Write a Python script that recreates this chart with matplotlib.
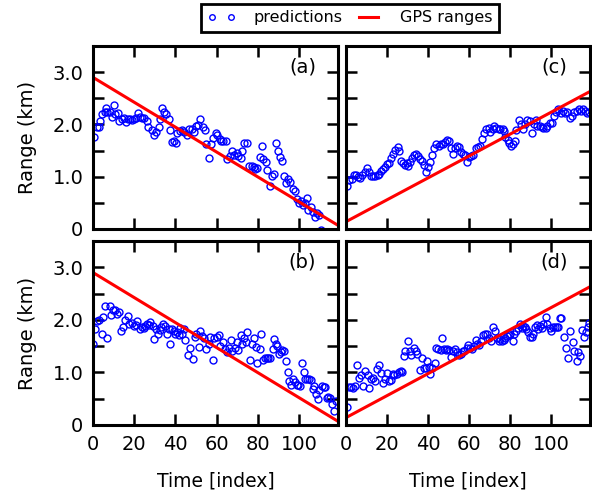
import numpy as np
import matplotlib
matplotlib.use("Agg")
import matplotlib.pyplot as plt

# predictions (time index, range in km)
a_x = [0.5, 1.8, 2.9, 3.4, 4.5, 5.9, 6.2, 7, 8.3, 9,
       10, 10.7, 12, 12.8, 14, 15, 16, 17, 18, 19,
       19.7, 20.8, 22, 23, 24, 25, 26, 26.7, 28.6, 29.8,
       30.7, 31.9, 32.7, 33.5, 34.6, 35.6, 36.7, 37.6, 38.4, 39.5,
       40.5, 41, 42.4, 43.2, 44.4, 45.7, 46.5, 48, 49, 49.8,
       51, 52, 53.3, 54.3, 55, 56.3, 57.4, 58.4, 59.5, 60.3,
       61.5, 62.3, 63.3, 64.4, 65.2, 66.5, 67.6, 68.5, 69.8, 70.6,
       71.7, 72.5, 73.3, 74.6, 75.8, 77, 78, 78.7, 79.8, 81,
       82, 82.8, 84, 84.7, 86, 86.8, 88, 89, 89.9, 90.9,
       92, 92.8, 93.7, 94.8, 95.8, 96.9, 98, 99, 100, 101,
       102, 103, 104, 104.6, 106, 106.7, 107.8, 108.8, 110, 110.7]
a_y = [1.76, 1.96, 1.96, 2.06, 2.19, 2.24, 2.32, 2.24, 2.24, 2.14,
       2.37, 2.19, 2.22, 2.06, 2.10, 2.13, 2.04, 2.10, 2.11, 2.08,
       2.10, 2.13, 2.21, 2.15, 2.12, 2.12, 2.06, 1.96, 1.89, 1.79,
       1.86, 1.96, 2.11, 2.31, 2.24, 2.19, 2.11, 1.89, 1.66, 1.68,
       1.64, 1.84, 1.88, 1.90, 1.85, 1.79, 1.92, 1.92, 1.85, 1.97,
       1.98, 2.11, 1.96, 1.89, 1.63, 1.35, 1.62, 1.74, 1.83, 1.79,
       1.72, 1.69, 1.69, 1.68, 1.34, 1.39, 1.49, 1.42, 1.46, 1.39,
       1.36, 1.49, 1.65, 1.65, 1.21, 1.21, 1.19, 1.15, 1.17, 1.38,
       1.58, 1.34, 1.29, 1.13, 0.83, 1.02, 1.06, 1.65, 1.49, 1.38,
       1.31, 1.01, 0.88, 0.96, 0.89, 0.76, 0.72, 0.57, 0.49, 0.53,
       0.46, 0.49, 0.59, 0.37, 0.43, 0.33, 0.22, 0.30, 0.27, -0.02]

b_x = [0, 1, 2.1, 3, 4.2, 5, 5.9, 7, 8.3, 8.8,
       9.9, 10.7, 11.5, 12.8, 13.7, 14.8, 15.6, 16.9, 17.7, 18.9,
       19.7, 20.8, 21.6, 22.6, 23.7, 24.6, 25.4, 26.2, 27, 27.8,
       28.9, 29.8, 30.6, 31.5, 32.4, 33, 34, 35.1, 35.9, 36.7,
       37.6, 38.4, 39.2, 40, 41, 41.6, 42.4, 43.3, 44, 44.9,
       46, 47.3, 48.5, 49.3, 50.2, 51.4, 52.2, 53, 54.1, 55.1,
       56.3, 57, 58.2, 59, 60, 61.1, 61.9, 63.1, 63.9, 64.9,
       66, 66.8, 67.6, 68.8, 69.8, 70.6, 71.7, 72.5, 73.3, 74.5,
       75, 76.1, 77, 78.2, 79.3, 79.8, 81, 81.8, 82.6, 83.6,
       84.4, 85.2, 86, 87.2, 88, 88.8, 89.6, 90.4, 91.2, 92,
       92.8, 93.7, 94.5, 95.3, 96.1, 97.2, 98, 98.9, 99.7, 100.5,
       101.5, 102.3, 103.1, 103.9, 105, 105.9, 106.7, 107.5, 108.3, 109.1,
       110, 111.1, 112, 112.8, 113.7, 114.3, 115.1, 115.9, 116.9, 118]
b_y = [1.55, 1.83, 1.97, 2.00, 1.74, 2.05, 2.26, 1.65, 2.26, 2.10,
       2.18, 2.19, 2.12, 2.15, 1.79, 1.86, 2.00, 2.08, 1.92, 1.94,
       1.89, 1.91, 1.97, 1.83, 1.86, 1.85, 1.89, 1.92, 1.91, 1.96,
       1.89, 1.63, 1.83, 1.73, 1.81, 1.87, 1.92, 1.89, 1.74, 1.83,
       1.54, 1.83, 1.79, 1.73, 1.76, 1.72, 1.85, 1.74, 1.83, 1.62,
       1.33, 1.47, 1.25, 1.67, 1.74, 1.49, 1.78, 1.70, 1.65, 1.44,
       1.54, 1.67, 1.23, 1.65, 1.68, 1.72, 1.51, 1.57, 1.44, 1.38,
       1.46, 1.62, 1.40, 1.47, 1.57, 1.42, 1.72, 1.55, 1.65, 1.57,
       1.76, 1.23, 1.54, 1.65, 1.49, 1.17, 1.44, 1.74, 1.23, 1.27,
       1.28, 1.28, 1.27, 1.44, 1.63, 1.55, 1.51, 1.35, 1.38, 1.42,
       1.41, 1.22, 1.01, 0.83, 0.76, 0.88, 0.82, 0.77, 0.76, 0.74,
       1.17, 1.01, 0.88, 0.87, 0.87, 0.85, 0.69, 0.74, 0.59, 0.50,
       0.67, 0.74, 0.72, 0.72, 0.51, 0.53, 0.51, 0.40, 0.27, 0.46]

c_x = [0.7, 1.5, 2.8, 3.9, 4.8, 5.9, 6.9, 8, 9.2, 10.3,
       11.3, 12, 13.3, 14.3, 15.4, 16.2, 17, 17.9, 19, 20,
       21, 22, 23, 24, 25.2, 26, 26.9, 27.7, 28.9, 29.8,
       30, 31.3, 32, 33, 34.3, 35, 35.9, 37, 37.9, 38.9,
       40, 40.8, 42, 43, 44, 45.2, 46.2, 47.4, 48.5, 49.5,
       50.3, 51, 52.3, 53, 54.3, 55, 56, 56.9, 58, 58.9,
       60, 61, 62, 63.3, 64.3, 65.4, 66.2, 67.4, 68.4, 69.5,
       70.3, 71.5, 72.3, 73.3, 74.4, 75.2, 76.4, 76.9, 77.7, 78.9,
       79.7, 80.7, 81.5, 82.3, 83.1, 84.3, 85.4, 86.4, 87.2, 88.4,
       89.5, 90.5, 91.6, 92.5, 93.3, 94.4, 95.4, 96.2, 97.4, 98.2,
       99.3, 100.3, 101.5, 102.6, 103.6, 104.8, 105.9, 106.9, 108, 109.2,
       110.2, 111.3, 112.5, 113.4, 114.6, 115.7, 116.7, 117.5, 118.7]
c_y = [0.82, 0.93, 0.96, 1.04, 1.03, 0.99, 0.97, 1.03, 1.09, 1.17,
       1.09, 1.01, 1.01, 1.01, 1.03, 1.06, 1.10, 1.15, 1.19, 1.25,
       1.27, 1.36, 1.44, 1.52, 1.57, 1.49, 1.31, 1.27, 1.23, 1.27,
       1.20, 1.28, 1.36, 1.41, 1.44, 1.40, 1.33, 1.31, 1.23, 1.09,
       1.19, 1.29, 1.42, 1.54, 1.63, 1.59, 1.62, 1.63, 1.67, 1.70,
       1.68, 1.54, 1.44, 1.54, 1.59, 1.57, 1.47, 1.44, 1.41, 1.29,
       1.38, 1.40, 1.42, 1.55, 1.57, 1.59, 1.73, 1.83, 1.91, 1.94,
       1.86, 1.91, 1.97, 1.94, 1.91, 1.92, 1.91, 1.87, 1.76, 1.70,
       1.65, 1.59, 1.63, 1.68, 1.89, 2.08, 2.00, 1.92, 2.01, 2.08,
       2.06, 1.83, 2.00, 2.08, 1.97, 1.97, 1.96, 1.94, 1.94, 1.97,
       2.02, 2.02, 2.17, 2.23, 2.29, 2.21, 2.26, 2.21, 2.23, 2.13,
       2.17, 2.24, 2.26, 2.29, 2.26, 2.29, 2.26, 2.21, 2.23]

d_x = [0.7, 1.5, 2.6, 3.4, 4.4, 5.6, 6.4, 7.2, 8.4, 9.3,
       10.5, 11.3, 12.1, 13.3, 14.3, 15.1, 16.2, 17, 17.9, 19,
       20, 20.8, 22, 22.8, 23.6, 24.8, 25.7, 26.6, 27.4, 28.2,
       29, 30.2, 31, 31.8, 33, 33.9, 34.8, 35.9, 37, 37.9,
       38.9, 39.7, 40.5, 41.1, 42.1, 43.3, 44.1, 44.9, 46.1, 47,
       47.7, 48.7, 49.5, 50.3, 51.1, 52.3, 53.1, 53.9, 55.1, 55.9,
       56.9, 57.7, 58.9, 59.7, 60.5, 61.6, 62.5, 63.4, 64.1, 65.1,
       65.9, 66.7, 67.9, 68.7, 69.5, 70.7, 71.6, 72.8, 73.6, 74.4,
       75.2, 76.1, 76.9, 77.7, 78.5, 79.3, 80.2, 81.5, 82.1, 83.1,
       83.9, 84.8, 85.6, 86.4, 87.2, 88, 88.9, 89.7, 90.5, 91.3,
       92.1, 93, 93.8, 94.6, 95.4, 96.2, 97.4, 98.2, 99.3, 100.2,
       101, 101.8, 102.8, 103.4, 104.3, 105.1, 106.4, 107.5, 108.5, 109.3,
       110.5, 111.3, 112.5, 113.3, 114.1, 114.9, 116.2, 117, 117.8, 118.7]
d_y = [0.35, 0.72, 0.72, 0.71, 0.74, 1.15, 0.90, 0.95, 0.74, 1.03,
       0.96, 0.71, 0.88, 0.90, 0.83, 1.06, 1.14, 0.99, 0.80, 0.88,
       0.99, 0.83, 0.85, 0.97, 0.96, 0.97, 1.01, 1.03, 1.01, 1.31,
       1.40, 1.59, 1.40, 1.33, 1.47, 1.40, 1.36, 1.04, 1.28, 1.08,
       1.09, 1.21, 1.10, 0.97, 1.08, 1.17, 1.46, 1.44, 1.42, 1.65,
       1.44, 1.42, 1.44, 1.42, 1.29, 1.40, 1.44, 1.38, 1.33, 1.35,
       1.41, 1.40, 1.47, 1.53, 1.47, 1.44, 1.51, 1.62, 1.54, 1.53,
       1.60, 1.72, 1.73, 1.74, 1.65, 1.59, 1.87, 1.79, 1.65, 1.59,
       1.63, 1.59, 1.62, 1.65, 1.70, 1.72, 1.73, 1.59, 1.74, 1.78,
       1.85, 1.92, 1.85, 1.89, 1.87, 1.83, 1.76, 1.68, 1.67, 1.74,
       1.87, 1.91, 1.83, 1.89, 1.85, 1.92, 2.06, 1.92, 1.85, 1.78,
       1.86, 1.87, 1.87, 1.86, 2.04, 2.04, 1.68, 1.46, 1.27, 1.79,
       1.57, 1.40, 1.22, 1.38, 1.31, 1.81, 1.68, 1.76, 1.87, 1.94]

# GPS ranges are straight lines, given by their end points
gps_x = [0, 119]
gps_down = [2.90, 0.07]
gps_up = [0.14, 2.63]

panels = [
    ("(a)", a_x, a_y, gps_down),
    ("(b)", b_x, b_y, gps_down),
    ("(c)", c_x, c_y, gps_up),
    ("(d)", d_x, d_y, gps_up),
]

W, H = 592, 493
fig = plt.figure(figsize=(W / 100, H / 100), dpi=100)

# axes boxes in pixels: left, top, right, bottom
boxes = [(93, 46, 338, 229), (93, 241, 338, 425),
         (346, 46, 590, 229), (346, 241, 590, 425)]

ytick_vals = [0, 0.5, 1.0, 1.5, 2.0, 2.5, 3.0, 3.5]
ytick_labels = ["0", "", "1.0", "", "2.0", "", "3.0", ""]

for i, ((name, px, py, gps), (l, t, r, b)) in enumerate(zip(panels, boxes)):
    ax = fig.add_axes([l / W, 1 - b / H, (r - l) / W, (b - t) / H])
    ax.plot(px, py, "o", mfc="none", mec="b", mew=1.0, ms=5, label="predictions")
    ax.plot(gps_x, gps, "-", color="r", lw=2.2, label="GPS ranges")
    ax.set_xlim(0, 119)
    ax.set_ylim(0, 3.5)
    ax.set_xticks([0, 20, 40, 60, 80, 100])
    ax.set_yticks(ytick_vals)
    ax.tick_params(direction="in", length=8, width=1.8, top=True, right=True,
                   labelsize=14, pad=7)
    for s in ax.spines.values():
        s.set_linewidth(2.2)
    ax.text(0.855, 0.885, name, transform=ax.transAxes, fontsize=14,
            ha="center", va="center")
    if i < 2:
        ax.set_yticklabels(ytick_labels)
        ax.set_ylabel("Range (km)", fontsize=14, labelpad=11)
    else:
        ax.set_yticklabels([])
    if i in (1, 3):
        ax.set_xlabel("Time [index]", fontsize=13.5, labelpad=13)
    else:
        ax.set_xticklabels([])
    if i == 0:
        handles, labels = ax.get_legend_handles_labels()

leg = fig.legend(handles, labels, loc="upper center",
                 bbox_to_anchor=(350 / W, 1 - 4 / H), ncol=2, numpoints=2,
                 fontsize=11.5, fancybox=False, edgecolor="k", framealpha=1,
                 handlelength=1.8, handletextpad=1.1, columnspacing=0.7,
                 borderaxespad=0)
leg.get_frame().set_linewidth(2)
for h in leg.legend_handles:
    if hasattr(h, "set_markersize"):
        h.set_markersize(4)

fig.savefig("out.png", dpi=100)
